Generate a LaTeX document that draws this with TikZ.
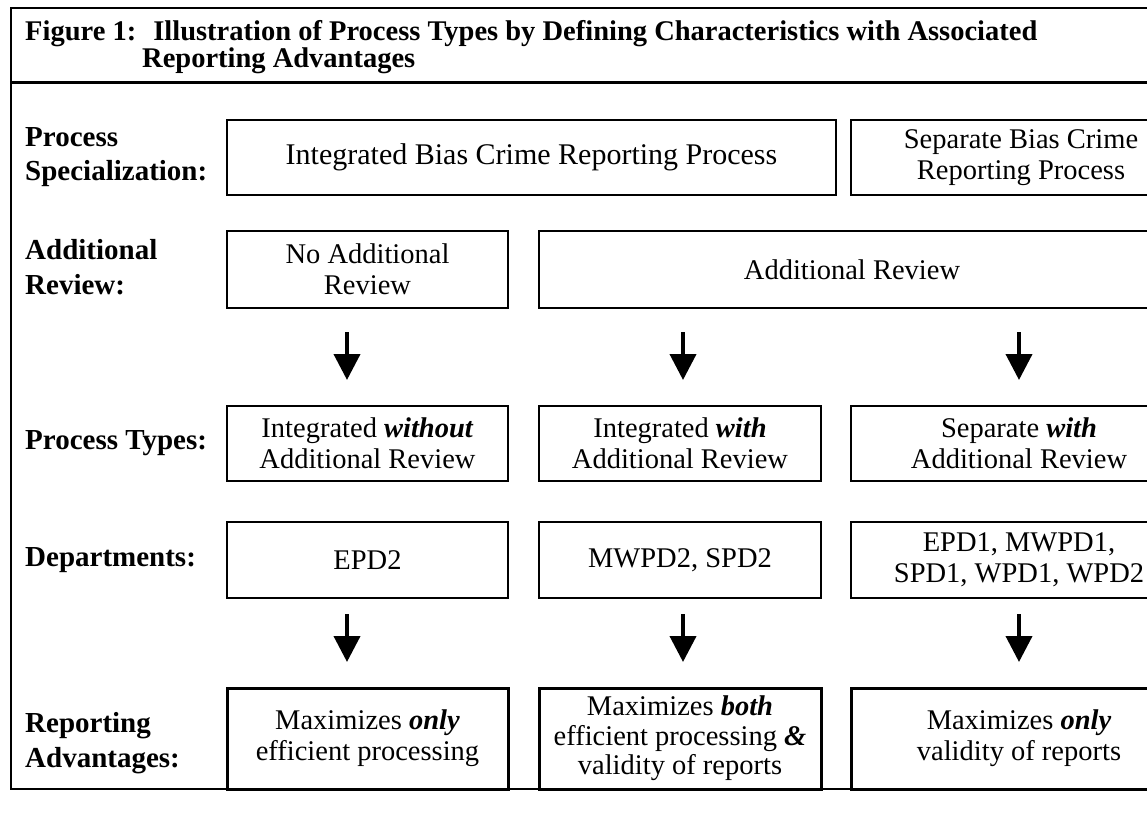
\documentclass[tikz,border=0pt]{standalone}
\usepackage{fontspec}
\setmainfont{Liberation Serif}
\usetikzlibrary{arrows.meta}
\newcommand\bodyfs{\fontsize{28.5}{31}\selectfont}
\newcommand\labfs{\fontsize{29}{34.5}\selectfont}
\begin{document}
\begin{tikzpicture}[x=1pt,y=-1pt,
  box/.style={draw, line width=2pt, inner sep=0pt, align=center, font=\bodyfs},
  advbox/.style={box, line width=3pt},
  lab/.style={anchor=west, align=left, inner sep=0pt, font=\labfs\bfseries},
  ttl/.style={anchor=base west, inner sep=0pt, font=\bodyfs\bfseries},
  downarrow/.style={line width=4pt, -{Triangle[width=26pt,length=26pt]}},
  frame/.style={line width=2pt}]
\useasboundingbox (0,0) rectangle (1147,824);
\clip (0,0) rectangle (1147,824);
% frame
\draw[frame] (1200,8) -- (11,8) -- (11,789) -- (1200,789);
\draw[line width=3pt] (10,83) -- (1200,83);
% title
\node[ttl] (t1) at (25,41) {Figure 1:\hspace{0.6em}Illustration of Process Types by Defining Characteristics with Associated};
\node[ttl] (t2) at (142,68) {Reporting Advantages};
% row labels
\node[lab] (l1) at (25,157) {Process\\Specialization:};
\node[lab] (l2) at (25,267) {Additional\\Review:};
\node[lab] (l3) at (25,443) {Process Types:};
\node[lab] (l4) at (25,560) {Departments:};
\node[lab] (l5) at (25,743) {Reporting\\Advantages:};
% row 1
\node[box, minimum width=609pt, minimum height=75pt, font=\fontsize{30}{31}\selectfont] (a1) at (531.5,157.5) {Integrated Bias Crime Reporting Process};
\node[box, minimum width=340pt, minimum height=75pt] (a2) at (1021,157.5) {Separate Bias Crime\\Reporting Process};
% row 2
\node[box, minimum width=281pt, minimum height=77pt] (b1) at (367.5,269.5) {No Additional\\Review};
\node[box, minimum width=626pt, minimum height=77pt] (b2) at (852,269.5) {Additional Review};
% row 3
\node[box, minimum width=281pt, minimum height=75pt] (c1) at (367.5,443.5) {Integrated \textbf{\textit{without}}\\Additional Review};
\node[box, minimum width=282pt, minimum height=75pt] (c2) at (680,443.5) {Integrated \textbf{\textit{with}}\\Additional Review};
\node[box, minimum width=336pt, minimum height=75pt] (c3) at (1019,443.5) {Separate \textbf{\textit{with}}\\Additional Review};
% row 4
\node[box, minimum width=281pt, minimum height=76pt] (d1) at (367.5,560) {EPD2};
\node[box, minimum width=282pt, minimum height=76pt] (d2) at (680,560) {MWPD2, SPD2};
\node[box, minimum width=336pt, minimum height=76pt] (d3) at (1019,560) {EPD1, MWPD1,\\SPD1, WPD1, WPD2};
% row 5
\node[advbox, minimum width=281pt, minimum height=101pt] (e1) at (367.5,738.5) {Maximizes \textbf{\textit{only}}\\efficient processing};
\node[advbox, minimum width=282pt, minimum height=101pt, font=\fontsize{28.5}{29.5}\selectfont] (e2) at (680,738.5) {Maximizes \textbf{\textit{both}}\\efficient processing \textbf{\textit{\&}}\\validity of reports};
\node[advbox, minimum width=336pt, minimum height=101pt] (e3) at (1019,738.5) {Maximizes \textbf{\textit{only}}\\validity of reports};
% arrows
\coordinate (p1s) at (347,332); \coordinate (p1e) at (347,380);
\coordinate (p2s) at (683,332); \coordinate (p2e) at (683,380);
\coordinate (p3s) at (1019,332); \coordinate (p3e) at (1019,380);
\coordinate (q1s) at (347,614); \coordinate (q1e) at (347,662);
\coordinate (q2s) at (683,614); \coordinate (q2e) at (683,662);
\coordinate (q3s) at (1019,614); \coordinate (q3e) at (1019,662);
\draw[downarrow] (p1s) -- (p1e);
\draw[downarrow] (p2s) -- (p2e);
\draw[downarrow] (p3s) -- (p3e);
\draw[downarrow] (q1s) -- (q1e);
\draw[downarrow] (q2s) -- (q2e);
\draw[downarrow] (q3s) -- (q3e);
\end{tikzpicture}
\end{document}
